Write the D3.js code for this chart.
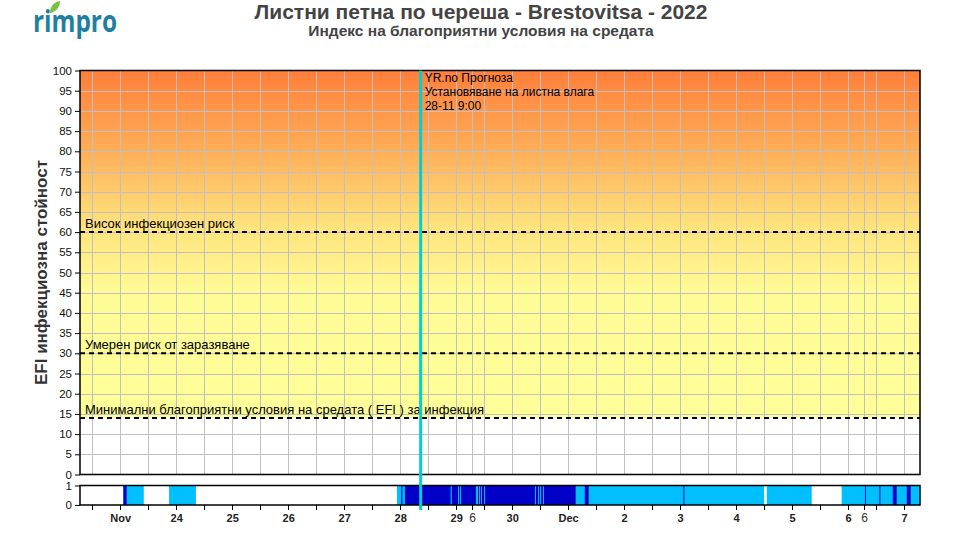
<!DOCTYPE html>
<html>
<head>
<meta charset="utf-8">
<script src="https://cdn.jsdelivr.net/npm/d3@7"></script>
<style>
  html, body { margin: 0; padding: 0; background: #fff; }
  svg { display: block; font-family: "Liberation Sans", Arial, sans-serif; }
</style>
</head>
<body>
<svg id="chart" width="960" height="535"></svg>
<script>
// ---------------- DATA ----------------
const chartTitle = "Листни петна по череша - Brestovitsa - 2022";
const chartSubtitle = "Индекс на благоприятни условия на средата";
const yAxisLabel = "EFI инфекциозна стойност";

const xDomain = ["2022-11-22T07:00", "2022-12-07T07:00"];
const yTicks = [0,5,10,15,20,25,30,35,40,45,50,55,60,65,70,75,80,85,90,95,100];

const dayLabelDates = ["2022-11-23T00:00","2022-11-24T00:00","2022-11-25T00:00","2022-11-26T00:00",
  "2022-11-27T00:00","2022-11-28T00:00","2022-11-29T00:00","2022-11-30T00:00","2022-12-01T00:00",
  "2022-12-02T00:00","2022-12-03T00:00","2022-12-04T00:00","2022-12-05T00:00","2022-12-06T00:00",
  "2022-12-07T00:00"];
const dayLabelTexts = ["Nov","24","25","26","27","28","29","30","Dec","2","3","4","5","6","7"];
const extraMarkDates = ["2022-11-29T06:50","2022-12-06T06:50"];
const extraMarkTexts = ["6","6"];

const thresholdValues = [60, 30, 14];
const thresholdLabels = ["Висок инфекциозен риск", "Умерен риск от заразяване",
  "Минимални благоприятни условия на средата ( EFI ) за инфекция"];

const forecastTime = "2022-11-28T09:00";
const forecastLines = ["YR.no Прогноза", "Установяване на листна влага", "28-11 9:00"];

// leaf wetness strip: light blue blocks, dark blue blocks drawn on top
const lightStart = ["2022-11-23T01:35","2022-11-23T21:10","2022-11-27T22:50","2022-12-04T13:20","2022-12-05T21:25"];
const lightEnd   = ["2022-11-23T10:20","2022-11-24T08:40","2022-12-04T12:10","2022-12-05T08:35","2022-12-07T07:00"];
const darkStart = ["2022-11-23T01:35","2022-11-28T00:40","2022-11-28T02:15","2022-11-28T22:20","2022-11-29T01:25",
  "2022-11-29T02:15","2022-11-29T09:35","2022-11-29T10:25","2022-11-29T11:15","2022-11-29T12:35",
  "2022-11-30T10:25","2022-11-30T11:40","2022-11-30T12:35","2022-11-30T13:50","2022-12-01T07:20",
  "2022-12-03T01:35","2022-12-06T07:25","2022-12-06T13:35","2022-12-06T19:20","2022-12-07T01:20"];
const darkEnd = ["2022-11-23T03:00","2022-11-28T01:10","2022-11-28T21:50","2022-11-29T01:00","2022-11-29T01:50",
  "2022-11-29T08:40","2022-11-29T10:00","2022-11-29T10:50","2022-11-29T12:10","2022-11-30T10:00",
  "2022-11-30T11:15","2022-11-30T12:10","2022-11-30T13:25","2022-12-01T03:25","2022-12-01T09:00",
  "2022-12-03T02:00","2022-12-06T07:50","2022-12-06T14:00","2022-12-06T21:00","2022-12-07T03:00"];

// ---------------- DRAW ----------------
const parse = d3.timeParse("%Y-%m-%dT%H:%M");
const svg = d3.select("#chart");
const L = 80, R = 920, T = 70.5, B = 474.5;
const SY0 = 505, SY1 = 485.5;

const x = d3.scaleTime().domain(xDomain.map(parse)).range([L, R]);
const y = d3.scaleLinear().domain([0, 100]).range([B, T]);
const ys = d3.scaleLinear().domain([0, 1]).range([SY0, SY1]);

// gradient background
const defs = svg.append("defs");
const grad = defs.append("linearGradient").attr("id", "bg")
  .attr("gradientUnits", "userSpaceOnUse")
  .attr("x1", 0).attr("x2", 0).attr("y1", y(100)).attr("y2", y(14));
const gStops = [[100, "#ff7f3a"], [80, "#ffae58"], [62, "#ffe27c"], [45, "#fffb96"], [14, "#ffff99"]];
gStops.forEach(s => grad.append("stop")
  .attr("offset", (100 - s[0]) / 86).attr("stop-color", s[1]));

svg.append("rect").attr("x", L).attr("y", y(100)).attr("width", R - L)
  .attr("height", y(14) - y(100)).attr("fill", "url(#bg)");

// grid
const gridDates = d3.timeHour.every(12).range(x.domain()[0], x.domain()[1]);
const extra = extraMarkDates.map(parse);
const grid = svg.append("g").attr("stroke", "#c0c0c0").attr("stroke-width", 1);
gridDates.concat(extra).forEach(d => {
  const px = Math.round(x(d)) + 0.5;
  if (px <= L + 1 || px >= R - 1) return;
  grid.append("line").attr("x1", px).attr("x2", px).attr("y1", T).attr("y2", B);
});
yTicks.forEach(v => {
  if (v === 0 || v === 100) return;
  const py = Math.round(y(v)) + 0.5;
  grid.append("line").attr("x1", L).attr("x2", R).attr("y1", py).attr("y2", py);
});

// threshold dashed lines & labels
thresholdValues.forEach((v, i) => {
  svg.append("line").attr("x1", L).attr("x2", R).attr("y1", y(v)).attr("y2", y(v))
    .attr("stroke", "#000").attr("stroke-width", 2).attr("stroke-dasharray", "5,4");
  svg.append("text").attr("x", L + 5).attr("y", y(v) - 4)
    .attr("font-size", 13).attr("fill", "#000").text(thresholdLabels[i]);
});

// frame main plot
svg.append("rect").attr("x", L).attr("y", T).attr("width", R - L).attr("height", B - T)
  .attr("fill", "none").attr("stroke", "#000").attr("stroke-width", 1.5);

// y axis
const yAxis = d3.axisLeft(y).tickValues(yTicks).tickSize(5).tickPadding(3);
const gy = svg.append("g").attr("transform", `translate(${L},0)`).call(yAxis);
gy.select(".domain").remove();
gy.selectAll("text").attr("font-size", 11.5).attr("fill", "#111")
  .attr("font-family", "'Liberation Sans', Arial, sans-serif");
gy.selectAll("line").attr("stroke", "#000");

// strip
svg.append("rect").attr("x", L).attr("y", SY1).attr("width", R - L).attr("height", SY0 - SY1)
  .attr("fill", "#fff");
svg.append("g").selectAll("rect").data(lightStart.map((s, i) => [parse(s), parse(lightEnd[i])]))
  .join("rect")
  .attr("x", d => x(d[0])).attr("width", d => x(d[1]) - x(d[0]))
  .attr("y", ys(1)).attr("height", ys(0) - ys(1)).attr("fill", "#00bfff");
svg.append("g").selectAll("rect").data(darkStart.map((s, i) => [parse(s), parse(darkEnd[i])]))
  .join("rect")
  .attr("x", d => x(d[0])).attr("width", d => Math.max(1, x(d[1]) - x(d[0])))
  .attr("y", ys(1)).attr("height", ys(0) - ys(1)).attr("fill", "#0000c8");
svg.append("rect").attr("x", L).attr("y", SY1).attr("width", R - L).attr("height", SY0 - SY1)
  .attr("fill", "none").attr("stroke", "#000").attr("stroke-width", 1.5);

const sAxis = d3.axisLeft(ys).tickValues([0, 1]).tickSize(5).tickPadding(3).tickFormat(d3.format("d"));
const gs = svg.append("g").attr("transform", `translate(${L},0)`).call(sAxis);
gs.select(".domain").remove();
gs.selectAll("text").attr("font-size", 11.5).attr("fill", "#111")
  .attr("font-family", "'Liberation Sans', Arial, sans-serif");

// forecast line
const fx = x(parse(forecastTime));
svg.append("line").attr("x1", fx).attr("x2", fx).attr("y1", T).attr("y2", 510)
  .attr("stroke", "#00d0d0").attr("stroke-width", 3);
forecastLines.forEach((t, i) => {
  svg.append("text").attr("x", fx + 4).attr("y", T + 11 + i * 14)
    .attr("font-size", 12).attr("fill", "#000").text(t);
});

// x axis ticks under the strip
const xt = svg.append("g").attr("stroke", "#000");
gridDates.concat(extra).forEach(d => {
  const px = Math.round(x(d)) + 0.5;
  if (px <= L + 1 || px >= R - 1) return;
  xt.append("line").attr("x1", px).attr("x2", px).attr("y1", SY0).attr("y2", SY0 + 5);
});
dayLabelDates.forEach((d, i) => {
  svg.append("text").attr("x", x(parse(d)) + 1).attr("y", 522).attr("text-anchor", "middle")
    .attr("font-size", 11).attr("font-weight", "bold").attr("fill", "#222").text(dayLabelTexts[i]);
});
extraMarkDates.forEach((d, i) => {
  svg.append("text").attr("x", x(parse(d)) + 1).attr("y", 522).attr("text-anchor", "middle")
    .attr("font-size", 12).attr("fill", "#333").text(extraMarkTexts[i]);
});

// y label
svg.append("text").attr("transform", `translate(47,${(T + B) / 2}) rotate(-90)`)
  .attr("text-anchor", "middle").attr("font-size", 17).attr("font-weight", "bold")
  .attr("fill", "#333").text(yAxisLabel);

// titles
svg.append("text").attr("x", 481).attr("y", 19).attr("text-anchor", "middle")
  .attr("font-size", 21).attr("font-weight", "bold").attr("fill", "#444").text(chartTitle);
svg.append("text").attr("x", 481).attr("y", 36).attr("text-anchor", "middle")
  .attr("font-size", 15.5).attr("font-weight", "bold").attr("fill", "#444").text(chartSubtitle);

// logo
svg.append("text").attr("x", 33).attr("y", 32).attr("font-size", 30).attr("font-weight", "bold")
  .attr("fill", "#1f7fa3").attr("textLength", 84)
  .attr("lengthAdjust", "spacingAndGlyphs").attr("font-family", "'Open Sans', sans-serif")
  .text("rimpro");
svg.append("path").attr("d", "M50,13 C50,6 54,2 60,1 C60,7 56,12 50,13 Z").attr("fill", "#7dc142");
</script>
</body>
</html>
